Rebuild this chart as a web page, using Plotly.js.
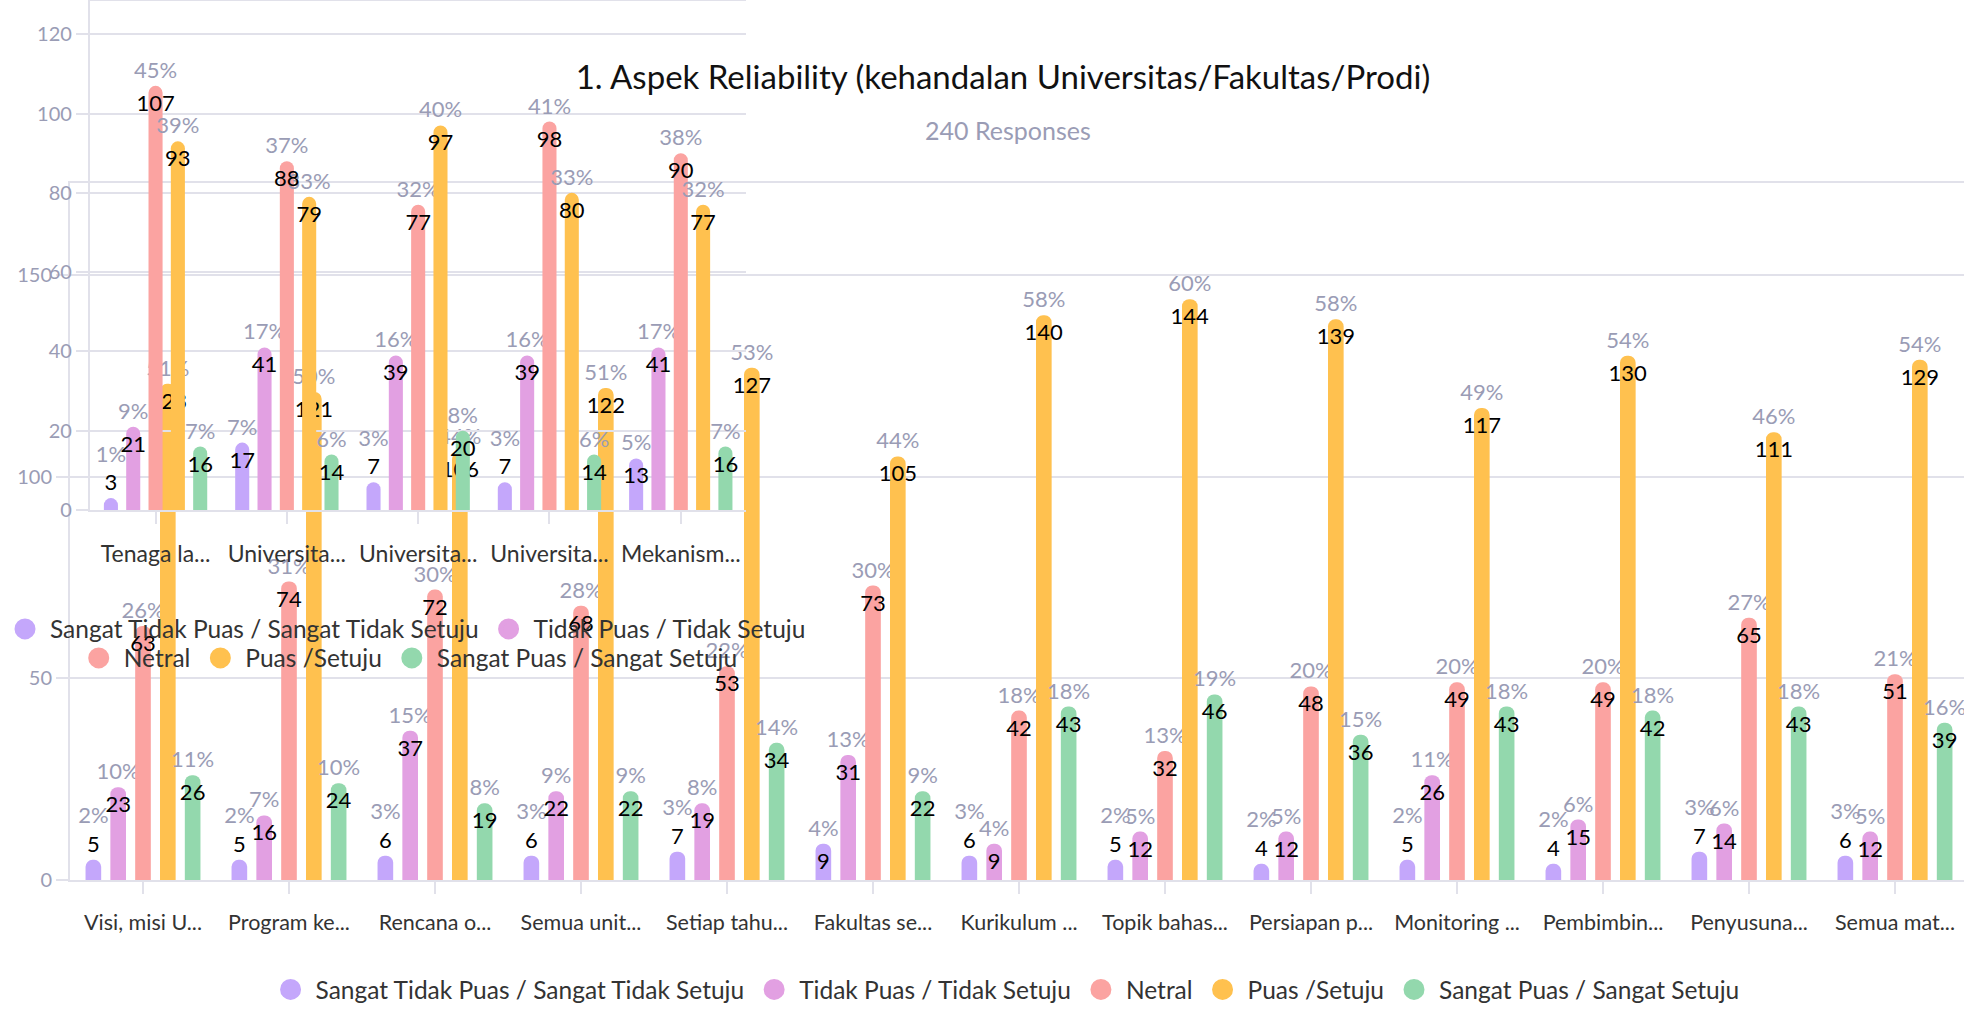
<!DOCTYPE html>
<html>
<head>
<meta charset="utf-8">
<script src="https://cdn.plot.ly/plotly-3.0.1.min.js"></script>
<style>
html,body{margin:0;padding:0;overflow:hidden;background:#ffffff;}
#chart{width:1968px;height:1013px;}
</style>
</head>
<body>
<div id="chart"></div>
<script>
// ---------- data ----------
const TOTAL_RESPONSES = 240;
const seriesNames = ["Sangat Tidak Puas / Sangat Tidak Setuju", "Tidak Puas / Tidak Setuju", "Netral", "Puas /Setuju", "Sangat Puas / Sangat Setuju"];

const mainCategories = ["Visi, misi U...", "Program ke...", "Rencana o...", "Semua unit...", "Setiap tahu...", "Fakultas se...", "Kurikulum ...", "Topik bahas...", "Persiapan p...", "Monitoring ...", "Pembimbin...", "Penyusuna...", "Semua mat..."];
const mainSangatTidakPuas = [5, 5, 6, 6, 7, 9, 6, 5, 4, 5, 4, 7, 6];
const mainTidakPuas = [23, 16, 37, 22, 19, 31, 9, 12, 12, 26, 15, 14, 12];
const mainNetral = [63, 74, 72, 68, 53, 73, 42, 32, 48, 49, 49, 65, 51];
const mainPuas = [123, 121, 106, 122, 127, 105, 140, 144, 139, 117, 130, 111, 129];
const mainSangatPuas = [26, 24, 19, 22, 34, 22, 43, 46, 36, 43, 42, 43, 39];

const insetCategories = ["Tenaga la...", "Universita...", "Universita...", "Universita...", "Mekanism..."];
const insetSangatTidakPuas = [3, 17, 7, 7, 13];
const insetTidakPuas = [21, 41, 39, 39, 41];
const insetNetral = [107, 88, 77, 98, 90];
const insetPuas = [93, 79, 97, 80, 77];
const insetSangatPuas = [16, 14, 20, 14, 16];

const titleText = "1. Aspek Reliability (kehandalan Universitas/Fakultas/Prodi)";
const subtitleText = "240 Responses";

// ---------- styles ----------
const COLORS = ["#c4a7fb", "#e2a0e2", "#fba3a1", "#ffc14f", "#93d8ad"];
const FONT = "Lato, 'Open Sans', 'DejaVu Sans', sans-serif";
const GRID = "#e1e1ea";
const TICK = "#9a9cb5";
const PCT = "#9a9cb5";
const LABEL = "#333333";

const W = 1968, H = 1013;
const M = {l: 60, r: 0, t: 0, b: 133};
const PH = H - M.t - M.b;           // 880
const PW = W - M.l - M.r;           // 1908

const mainTopPx = 183, mainBotPx = 880;
const insetTopPx = 1, insetBotPx = 510, insetLeftPx = 80, insetRightPx = 740;

const mainSeries = [mainSangatTidakPuas, mainTidakPuas, mainNetral, mainPuas, mainSangatPuas];
const insetSeries = [insetSangatTidakPuas, insetTidakPuas, insetNetral, insetPuas, insetSangatPuas];

const mainMax = Math.max(...mainSeries.flat()) * 1.2;
const insetMax = Math.max(...insetSeries.flat()) * 1.2;
const mainPPU = (mainBotPx - mainTopPx) / mainMax;
const insetPPU = (insetBotPx - insetTopPx) / insetMax;

const pct = v => Math.round(v / TOTAL_RESPONSES * 100) + "%";
const SHORT = 32;
const isShort = (v, ppu) => v * ppu < SHORT;

// text above the bar: percentage (plus the value when the bar is too short to hold it)
function topText(vals, ppu) {
  return vals.map(v => isShort(v, ppu) ? pct(v) + '<br><span style="color:#000000">' + v + '</span>' : pct(v));
}
// text inside the bar top: the value
function insideText(vals, ppu) {
  return vals.map(v => isShort(v, ppu) ? '' : String(v));
}

const LBL = 22;
const traces = [];
function addBars(xs, seriesList, xa, ya, yaOverlay, ppu) {
  seriesList.forEach((vals, i) => {
    traces.push({
      type: 'bar', x: xs, y: vals, xaxis: xa, yaxis: ya,
      name: seriesNames[i], showlegend: false, hoverinfo: 'skip',
      marker: {color: COLORS[i], cornerradius: '50%', line: {width: 0}},
      text: topText(vals, ppu), textposition: 'outside',
      textangle: 0, constraintext: 'none', cliponaxis: false,
      outsidetextfont: {family: FONT, size: LBL, color: PCT}
    });
  });
  seriesList.forEach((vals, i) => {
    traces.push({
      type: 'bar', x: xs, y: vals, xaxis: xa, yaxis: yaOverlay,
      name: seriesNames[i] + ' value', showlegend: false, hoverinfo: 'skip',
      marker: {color: 'rgba(0,0,0,0)', line: {width: 0}},
      text: insideText(vals, ppu), textposition: 'inside', insidetextanchor: 'end',
      textangle: 0, constraintext: 'none', cliponaxis: false,
      insidetextfont: {family: FONT, size: LBL, color: '#000000'}
    });
  });
}

addBars(mainCategories, mainSeries, 'x', 'y', 'y2', mainPPU);
addBars(insetCategories.map((c, i) => i), insetSeries, 'x3', 'y3', 'y4', insetPPU);

// legend entries (circle markers)
function addLegend(idxs, legendId) {
  idxs.forEach(i => {
    traces.push({
      type: 'scatter', mode: 'markers', x: [null], y: [null], xaxis: 'x', yaxis: 'y',
      name: seriesNames[i], legend: legendId, hoverinfo: 'skip',
      marker: {color: COLORS[i], size: 16, line: {color: COLORS[i], width: 5}}
    });
  });
}
addLegend([0, 1, 2, 3, 4], 'legend');
addLegend([0, 1], 'legend2');
addLegend([2, 3, 4], 'legend3');

const py = px => (M.t + PH - px) / PH;
const pxx = px => (px - M.l) / PW;

const yCommon = {
  showgrid: true, gridcolor: GRID, gridwidth: 2,
  showline: true, linecolor: GRID, linewidth: 2,
  ticks: 'outside', ticklen: 12, tickcolor: GRID, tickwidth: 2,
  tickfont: {family: FONT, size: 20, color: TICK},
  zeroline: false, fixedrange: true
};
const xCommon = {
  showgrid: false, showline: true, linecolor: GRID, linewidth: 2, mirror: true,
  ticks: 'outside', ticklen: 12, tickcolor: GRID, tickwidth: 2,
  ticklabelstandoff: 10,
  zeroline: false, fixedrange: true
};

const LEG = 24.5;
const legendCommon = {
  orientation: 'h', xanchor: 'center', yanchor: 'middle', itemwidth: 40,
  bgcolor: 'rgba(0,0,0,0)', borderwidth: 0, itemclick: false, itemdoubleclick: false,
  font: {family: FONT, size: LEG, color: LABEL}
};

const layout = {
  width: W, height: H,
  margin: M,
  paper_bgcolor: 'rgba(0,0,0,0)', plot_bgcolor: 'rgba(0,0,0,0)',
  font: {family: FONT, color: LABEL},
  barmode: 'group', bargap: 0.15, bargroupgap: 0.37,
  title: {
    text: titleText, font: {family: FONT, size: 33, color: '#111111'},
    xref: 'container', x: 1003 / W, xanchor: 'center',
    yref: 'container', y: 1 - 77 / H, yanchor: 'middle'
  },
  xaxis: Object.assign({}, xCommon, {type: 'category', range: [-0.5, mainCategories.length - 0.5], anchor: 'y', domain: [0, 1],
    tickfont: {family: FONT, size: 21.5, color: LABEL}}),
  yaxis: Object.assign({}, yCommon, {range: [0, mainMax], dtick: 50, tick0: 0, anchor: 'x', domain: [py(mainBotPx), py(mainTopPx)]}),
  yaxis2: {overlaying: 'y', range: [0, mainMax], visible: false, fixedrange: true},
  xaxis3: Object.assign({}, xCommon, {type: 'linear', range: [-0.5, insetCategories.length - 0.5],
    tickvals: insetCategories.map((c, i) => i), ticktext: insetCategories,
    anchor: 'y3', domain: [pxx(insetLeftPx), pxx(insetRightPx)],
    tickfont: {family: FONT, size: 23, color: LABEL}}),
  yaxis3: Object.assign({}, yCommon, {range: [0, insetMax], dtick: 20, tick0: 0, anchor: 'x3', domain: [py(insetBotPx), py(insetTopPx)]}),
  yaxis4: {overlaying: 'y3', range: [0, insetMax], visible: false, fixedrange: true},
  legend: Object.assign({}, legendCommon, {x: pxx(1000), y: py(1012), yanchor: 'bottom'}),
  legend2: Object.assign({}, legendCommon, {x: pxx(397), y: py(629)}),
  legend3: Object.assign({}, legendCommon, {x: pxx(400), y: py(658)}),
  annotations: [{
    text: subtitleText, showarrow: false, xref: 'paper', yref: 'paper',
    x: pxx(1003), y: py(130), xanchor: 'center', yanchor: 'middle',
    font: {family: FONT, size: 25, color: PCT}
  }]
};

Plotly.newPlot('chart', traces, layout, {displayModeBar: false, staticPlot: true});
</script>
</body>
</html>
